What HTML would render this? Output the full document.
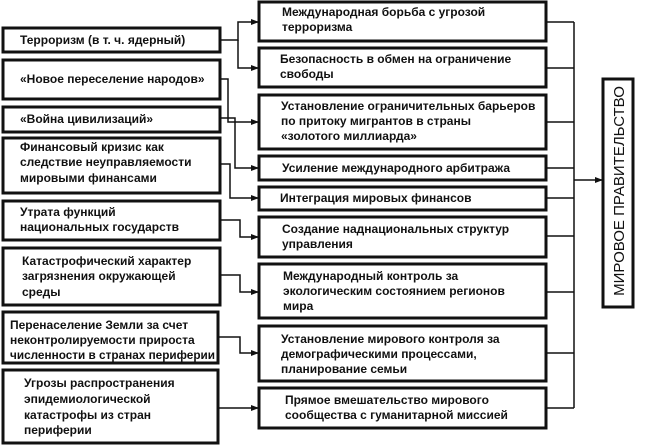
<!DOCTYPE html>
<html><head><meta charset="utf-8"><style>
html,body{margin:0;padding:0;background:#fff;}
svg{display:block}
text{font-family:"Liberation Sans","Noto Sans CJK SC",sans-serif;font-weight:bold;font-size:12px;fill:#111}
</style></head><body>
<svg width="650" height="445" viewBox="0 0 650 445" xmlns="http://www.w3.org/2000/svg">
<defs><marker id="a" markerWidth="8" markerHeight="6" refX="7" refY="3" orient="auto" markerUnits="userSpaceOnUse"><path d="M0,0 L8,3 L0,6 Z" fill="#111"/></marker></defs>
<g fill="none" stroke="#111" stroke-width="3">
<rect x="3" y="28" width="217" height="24"/>
<rect x="3" y="60" width="217" height="39"/>
<rect x="3" y="107" width="217" height="25"/>
<rect x="3" y="138" width="217" height="55"/>
<rect x="3" y="201" width="217" height="39"/>
<rect x="3" y="248" width="217" height="57"/>
<rect x="3" y="312" width="215" height="51"/>
<rect x="3" y="370" width="215" height="73"/>
<rect x="259" y="2" width="287" height="39"/>
<rect x="259" y="48" width="287" height="39"/>
<rect x="259" y="95" width="287" height="54"/>
<rect x="259" y="156" width="287" height="24"/>
<rect x="259" y="187" width="287" height="23"/>
<rect x="259" y="217" width="287" height="40"/>
<rect x="259" y="264" width="287" height="54"/>
<rect x="259" y="326" width="287" height="55"/>
<rect x="259" y="388" width="287" height="40"/>
<rect x="603" y="79" width="30" height="228"/>
</g>
<g fill="none" stroke="#111" stroke-width="1.5">
<path d="M220 40 H238 V22 H258" marker-end="url(#a)"/>
<path d="M238 40 V68 H258" marker-end="url(#a)"/>
<path d="M220 79 H228 V122 H258" marker-end="url(#a)"/>
<path d="M220 118 H235 V168 H258" marker-end="url(#a)"/>
<path d="M220 164 H230 V198 H258" marker-end="url(#a)"/>
<path d="M220 220 H240 V237 H258" marker-end="url(#a)"/>
<path d="M220 275 H240 V292 H258" marker-end="url(#a)"/>
<path d="M218 337 H240 V353 H258" marker-end="url(#a)"/>
<path d="M218 408 H258" marker-end="url(#a)"/>
<path d="M546 22 H574 M546 68 H574 M546 122 H574 M546 168 H574 M546 198 H574 M546 236 H574 M546 292 H574 M546 353 H574 M546 408 H574 M574 22 V408"/>
<path d="M574 180 H602" marker-end="url(#a)"/>
</g>
<text x="20" y="44">Терроризм (в т. ч. ядерный)</text>
<text x="20" y="83">«Новое переселение народов»</text>
<text x="20" y="123">«Война цивилизаций»</text>
<text x="20" y="151">Финансовый кризис как</text>
<text x="20" y="166">следствие неуправляемости</text>
<text x="20" y="182">мировыми финансами</text>
<text x="20" y="216">Утрата функций</text>
<text x="20" y="231">национальных государств</text>
<text x="22" y="265">Катастрофический характер</text>
<text x="22" y="280">загрязнения окружающей</text>
<text x="22" y="296">среды</text>
<text x="10" y="329">Перенаселение Земли за счет</text>
<text x="10" y="344">неконтролируемости прироста</text>
<text x="10" y="359" textLength="205" lengthAdjust="spacingAndGlyphs">численности в странах периферии</text>
<text x="24" y="387">Угрозы распространения</text>
<text x="24" y="403">эпидемиологической</text>
<text x="24" y="419">катастрофы из стран</text>
<text x="24" y="434">периферии</text>
<text x="282" y="16">Международная борьба с угрозой</text>
<text x="282" y="31">терроризма</text>
<text x="280" y="63">Безопасность в обмен на ограничение</text>
<text x="280" y="78">свободы</text>
<text x="281" y="110">Установление ограничительных барьеров</text>
<text x="281" y="125">по притоку мигрантов в страны</text>
<text x="281" y="140">«золотого миллиарда»</text>
<text x="282" y="172">Усиление международного арбитража</text>
<text x="280" y="202">Интеграция мировых финансов</text>
<text x="282" y="233">Создание наднациональных структур</text>
<text x="282" y="248">управления</text>
<text x="283" y="280">Международный контроль за</text>
<text x="283" y="295">экологическим состоянием регионов</text>
<text x="283" y="310">мира</text>
<text x="281" y="343">Установление мирового контроля за</text>
<text x="281" y="358">демографическими процессами,</text>
<text x="281" y="373">планирование семьи</text>
<text x="285" y="404">Прямое вмешательство мирового</text>
<text x="285" y="419">сообщества с гуманитарной миссией</text>
<text transform="translate(624,191) rotate(-90)" text-anchor="middle" style="font-weight:normal;font-size:15px">МИРОВОЕ ПРАВИТЕЛЬСТВО</text>
</svg>
</body></html>
